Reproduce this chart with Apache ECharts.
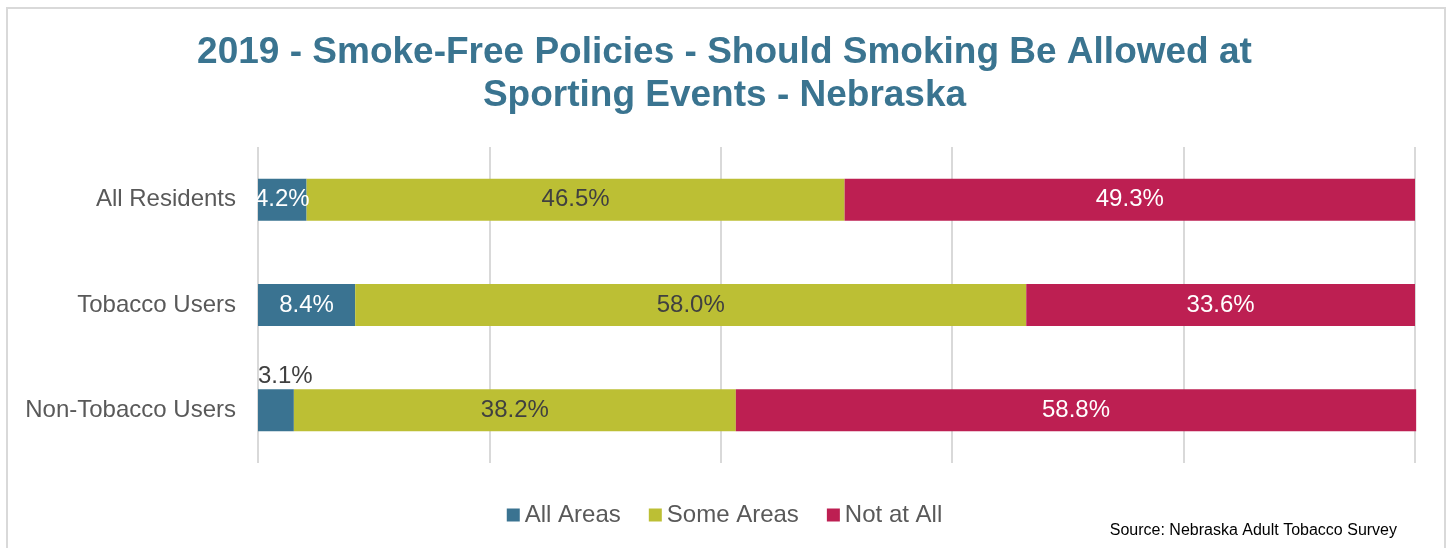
<!DOCTYPE html>
<html>
<head>
<meta charset="utf-8">
<script src="https://cdn.jsdelivr.net/npm/echarts@6/dist/echarts.min.js"></script>
<style>
  html, body { margin: 0; padding: 0; background: #fff; }
  #chart { width: 1449px; height: 548px; }
</style>
</head>
<body>
<div id="chart"></div>
<script>
// Survey groups (top to bottom) and the share answering each option
const categories = ['All Residents', 'Tobacco Users', 'Non-Tobacco Users'];
const allAreas = [4.2, 8.4, 3.1];
const someAreas = [46.5, 58.0, 38.2];
const notAtAll = [49.3, 33.6, 58.8];
const seriesNames = ['All Areas', 'Some Areas', 'Not at All'];
const colors = ['#3a7391', '#bcbf34', '#bd1f52'];

const chart = echarts.init(document.getElementById('chart'), null, { renderer: 'canvas' });

const FONT = 'Liberation Sans, Arial, sans-serif';
const labelFont = { fontFamily: FONT, fontSize: 24 };

// The smallest "All Areas" value is labelled above its bar
const allAreasData = allAreas.map(function (v) {
  if (v < 4) {
    return {
      value: v,
      label: {
        position: [0, -1],
        align: 'left',
        verticalAlign: 'bottom',
        color: '#404040'
      }
    };
  }
  return v;
});

const pct = function (p) { return p.value.toFixed(1) + '%'; };

const option = {
  animation: false,
  backgroundColor: '#ffffff',
  color: colors,
  title: {
    text: '2019 - Smoke-Free Policies - Should Smoking Be Allowed at\nSporting Events - Nebraska',
    left: 'center',
    top: 26,
    textStyle: {
      fontFamily: FONT,
      fontSize: 37,
      fontWeight: 'bold',
      color: '#3a7490',
      lineHeight: 43,
      align: 'center'
    }
  },
  legend: {
    data: seriesNames,
    bottom: 16,
    left: 'center',
    itemWidth: 13,
    itemHeight: 13,
    itemGap: 28,
    icon: 'rect',
    textStyle: {
      fontFamily: FONT,
      fontSize: 24,
      color: '#595959'
    }
  },
  grid: {
    left: 258,
    right: 34,
    top: 147,
    bottom: 85,
    containLabel: false
  },
  xAxis: {
    type: 'value',
    min: 0,
    max: 100,
    interval: 20,
    axisLabel: { show: false },
    axisLine: { show: false },
    axisTick: { show: false },
    splitLine: { show: true, lineStyle: { color: '#d9d9d9', width: 2 } }
  },
  yAxis: {
    type: 'category',
    data: categories,
    inverse: true,
    axisLine: { show: false },
    axisTick: { show: false },
    axisLabel: {
      margin: 22,
      fontFamily: FONT,
      fontSize: 24,
      color: '#595959'
    }
  },
  graphic: [
    {
      type: 'rect',
      silent: true,
      z: -10,
      shape: { x: 7, y: 8, width: 1438, height: 560 },
      style: { fill: 'none', stroke: '#d9d9d9', lineWidth: 2 }
    },
    {
      type: 'text',
      right: 52,
      bottom: 9,
      style: {
        text: 'Source: Nebraska Adult Tobacco Survey',
        fontFamily: FONT,
        fontSize: 16,
        fill: '#000000'
      }
    }
  ],
  series: [
    {
      name: seriesNames[0],
      type: 'bar',
      stack: 'total',
      barWidth: 42,
      clip: false,
      data: allAreasData,
      label: Object.assign({ show: true, position: 'inside', color: '#ffffff', formatter: pct }, labelFont)
    },
    {
      name: seriesNames[1],
      type: 'bar',
      stack: 'total',
      barWidth: 42,
      clip: false,
      data: someAreas,
      label: Object.assign({ show: true, position: 'inside', color: '#404040', formatter: pct }, labelFont)
    },
    {
      name: seriesNames[2],
      type: 'bar',
      stack: 'total',
      barWidth: 42,
      clip: false,
      data: notAtAll,
      label: Object.assign({ show: true, position: 'inside', color: '#ffffff', formatter: pct }, labelFont)
    }
  ]
};

chart.setOption(option);
</script>
</body>
</html>
